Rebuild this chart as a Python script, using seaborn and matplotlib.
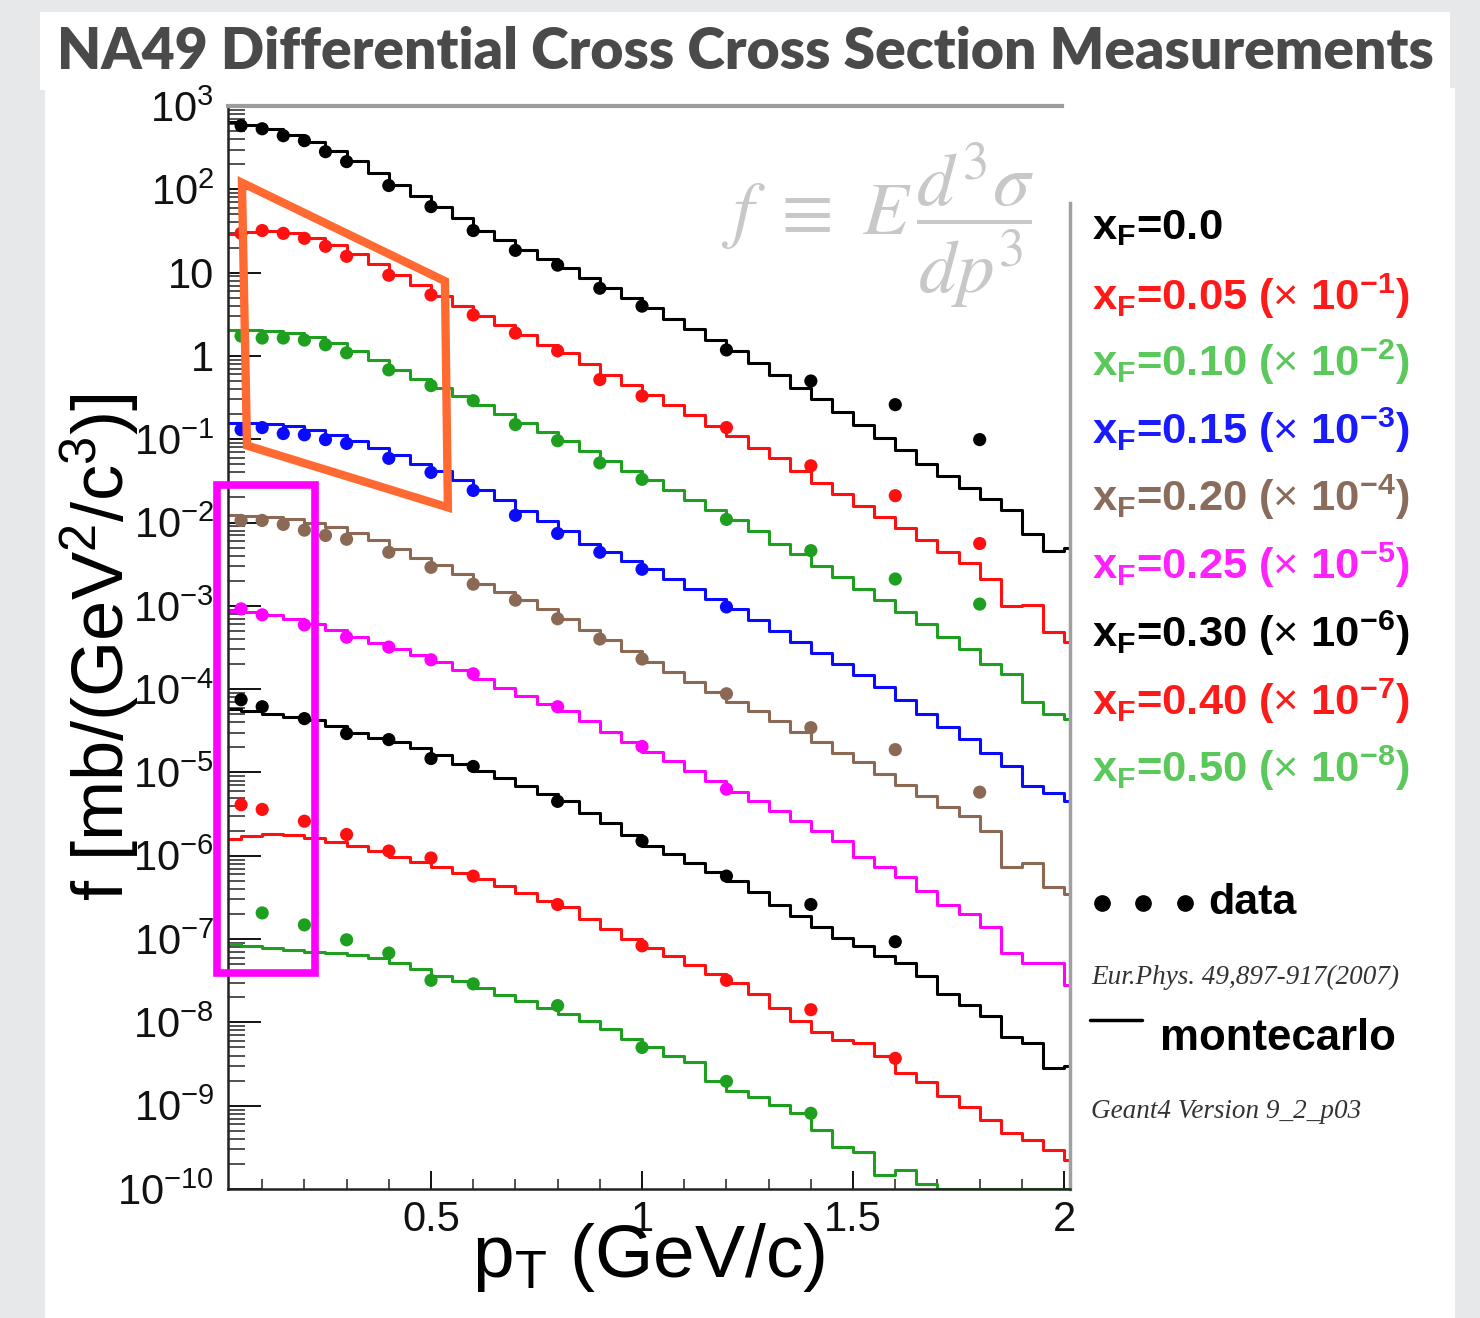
import numpy as np
import pandas as pd
import matplotlib
matplotlib.use("Agg")
import matplotlib.pyplot as plt
import seaborn as sns
from matplotlib.patches import Rectangle, Polygon
from matplotlib.lines import Line2D
from matplotlib.ticker import FixedLocator, LogLocator, NullFormatter, FuncFormatter, MultipleLocator

# ---------------- data ----------------
series_names = ["xF=0.0", "xF=0.05", "xF=0.10", "xF=0.15", "xF=0.20",
                "xF=0.25", "xF=0.30", "xF=0.40", "xF=0.50"]
legend_values = ["0.0", "0.05", "0.10", "0.15", "0.20", "0.25", "0.30", "0.40", "0.50"]
scale_exponents = [0, -1, -2, -3, -4, -5, -6, -7, -8]
line_colors = ["#000000", "#ff1010", "#1f9f1f", "#0a0aff", "#8c6955",
               "#ff00ff", "#000000", "#ff1010", "#1f9f1f"]
legend_colors = ["#000000", "#ff1a1a", "#5ac85a", "#1a1aff", "#8a6c5c",
                 "#ff22ff", "#000000", "#ff1a1a", "#5ac85a"]

# NA49 data points (already multiplied by the legend scale factors)
pt_fine = [0.05, 0.1, 0.15, 0.2, 0.25, 0.3, 0.4, 0.5, 0.6, 0.7, 0.8, 0.9, 1.0, 1.2, 1.4, 1.6, 1.8]
pt_coarse = [0.05, 0.1, 0.2, 0.3, 0.4, 0.5, 0.6, 0.8, 1.0, 1.2, 1.4, 1.6]
pt_xf050 = [0.1, 0.2, 0.3, 0.4, 0.5, 0.6, 0.8, 1.0, 1.2, 1.4]

data_xf000 = [580, 533, 440, 384, 283, 215, 111, 62, 32, 18.5, 12.3, 6.5, 3.96, 1.18, 0.50, 0.26, 0.099]
data_xf005 = [29.6, 32, 29.6, 25.8, 20.7, 15.7, 9.3, 5.4, 3.1, 1.88, 1.15, 0.52, 0.33, 0.138, 0.048, 0.021, 0.0056]
data_xf010 = [1.73, 1.64, 1.64, 1.55, 1.36, 1.09, 0.68, 0.44, 0.29, 0.150, 0.096, 0.052, 0.033, 0.0109, 0.0046, 0.0021, 0.00105]
data_xf015 = [0.130, 0.138, 0.117, 0.113, 0.099, 0.089, 0.059, 0.040, 0.0243, 0.0122, 0.0074, 0.0044, 0.00275, 0.00097]
data_xf020 = [0.0106, 0.0106, 0.0095, 0.0081, 0.0070, 0.0063, 0.0044, 0.0029, 0.00182, 0.00117, 0.00070,
              0.00040, 0.00023, 8.8e-5, 3.45e-5, 1.88e-5, 5.8e-6]
data_xf025 = [9.2e-4, 7.8e-4, 5.9e-4, 4.2e-4, 3.2e-4, 2.25e-4, 1.53e-4, 6.15e-5, 2.05e-5, 6.3e-6]
data_xf030 = [7.46e-5, 6.15e-5, 4.43e-5, 2.93e-5, 2.48e-5, 1.47e-5, 1.18e-5, 4.5e-6, 1.5e-6, 5.7e-7, 2.6e-7, 9.3e-8]
data_xf040 = [4.1e-6, 3.6e-6, 2.6e-6, 1.8e-6, 1.14e-6, 9.4e-7, 5.7e-7, 2.6e-7, 8.3e-8, 3.2e-8, 1.42e-8, 3.7e-9]
data_xf050 = [2.06e-7, 1.48e-7, 9.8e-8, 6.8e-8, 3.2e-8, 2.9e-8, 1.59e-8, 5.0e-9, 1.96e-9, 8.1e-10]

data_pt = [pt_fine, pt_fine, pt_fine, pt_fine[:14], pt_fine, pt_coarse[:10], pt_coarse, pt_coarse, pt_xf050]
data_f = [data_xf000, data_xf005, data_xf010, data_xf015, data_xf020,
          data_xf025, data_xf030, data_xf040, data_xf050]

# Geant4 Monte Carlo histograms: bin contents for bins [0.00,0.05), [0.05,0.10) ... [2.00,2.05)
mc_bin_width = 0.05
mc_xf000 = [647, 596, 533, 453, 373, 291, 221, 155, 114, 84,
            62, 45, 32, 24.4, 18.5, 14.5, 11.3, 8.6, 6.5, 4.9,
            3.75, 2.77, 2.10, 1.55, 1.15, 0.82, 0.59, 0.41, 0.30, 0.21,
            0.15, 0.104, 0.075, 0.050, 0.036, 0.026, 0.019, 0.014, 0.0072, 0.0046,
            0.0050]
mc_xf005 = [28.8, 30.4, 31.3, 29.6, 25.8, 21.3, 16.6, 12.6, 9.3, 7.1,
            5.2, 3.96, 3.01, 2.35, 1.78, 1.36, 1.09, 0.80, 0.59, 0.45,
            0.34, 0.26, 0.197, 0.146, 0.110, 0.079, 0.059, 0.042, 0.030, 0.022,
            0.016, 0.0115, 0.0085, 0.0061, 0.0044, 0.0033, 0.0021, 0.00100, 0.00102, 0.00049,
            0.00037]
mc_xf010 = [2.05, 2.05, 1.99, 1.88, 1.69, 1.43, 1.15, 0.90, 0.68, 0.53,
            0.41, 0.33, 0.26, 0.202, 0.158, 0.123, 0.096, 0.073, 0.055, 0.042,
            0.032, 0.0243, 0.0185, 0.0140, 0.0106, 0.0079, 0.0056, 0.0042, 0.0030, 0.0022,
            0.0016, 0.00117, 0.00084, 0.00061, 0.00042, 0.00030, 0.00020, 0.000153, 0.000071, 0.000051,
            0.000044]
mc_xf015 = [0.158, 0.158, 0.154, 0.146, 0.130, 0.113, 0.096, 0.079, 0.064, 0.051,
            0.041, 0.032, 0.0243, 0.0185, 0.0136, 0.0103, 0.0079, 0.0056, 0.0044, 0.0035,
            0.00275, 0.0021, 0.0016, 0.0012, 0.00092, 0.00068, 0.00050, 0.00037, 0.00027, 0.00020,
            1.49e-4, 1.07e-4, 7.5e-5, 5.1e-5, 3.5e-5, 2.5e-5, 1.69e-5, 1.18e-5, 6.8e-6, 5.6e-6,
            4.5e-6]
mc_xf020 = [1.22e-2, 1.19e-2, 1.15e-2, 1.09e-2, 1.00e-2, 8.8e-3, 7.4e-3, 6.1e-3, 4.8e-3, 3.8e-3,
            3.1e-3, 2.4e-3, 1.82e-3, 1.46e-3, 1.17e-3, 9.2e-4, 7.0e-4, 5.1e-4, 3.9e-4, 2.9e-4,
            2.1e-4, 1.61e-4, 1.23e-4, 9.3e-5, 7.1e-5, 5.4e-5, 4.1e-5, 3.1e-5, 2.35e-5, 1.73e-5,
            1.32e-5, 9.5e-6, 7.0e-6, 5.2e-6, 3.9e-6, 3.0e-6, 2.0e-6, 7.3e-7, 8.1e-7, 4.2e-7,
            3.5e-7]
mc_xf025 = [8.7e-4, 8.4e-4, 7.8e-4, 7.0e-4, 6.1e-4, 5.1e-4, 4.2e-4, 3.6e-4, 3.0e-4, 2.6e-4,
            2.1e-4, 1.71e-4, 1.33e-4, 1.04e-4, 8.3e-5, 6.7e-5, 5.4e-5, 4.1e-5, 3.1e-5, 2.35e-5,
            1.78e-5, 1.36e-5, 1.03e-5, 7.8e-6, 5.9e-6, 4.5e-6, 3.4e-6, 2.6e-6, 2.0e-6, 1.5e-6,
            9.6e-7, 7.3e-7, 5.5e-7, 3.8e-7, 2.6e-7, 2.0e-7, 1.4e-7, 6.8e-8, 5.2e-8, 5.2e-8,
            2.8e-8]
mc_xf030 = [5.83e-5, 5.52e-5, 5.08e-5, 4.68e-5, 4.31e-5, 3.65e-5, 3.01e-5, 2.62e-5, 2.29e-5, 1.94e-5,
            1.60e-5, 1.28e-5, 1.03e-5, 8.5e-6, 6.8e-6, 5.5e-6, 4.5e-6, 3.3e-6, 2.5e-6, 1.8e-6,
            1.3e-6, 1.04e-6, 8.1e-7, 6.4e-7, 5.0e-7, 3.7e-7, 2.6e-7, 1.9e-7, 1.4e-7, 1.03e-7,
            8.3e-8, 6.3e-8, 5.2e-8, 3.6e-8, 2.2e-8, 1.6e-8, 1.2e-8, 6.6e-9, 5.7e-9, 2.8e-9,
            3.0e-9]
mc_xf040 = [1.58e-6, 1.71e-6, 1.81e-6, 1.76e-6, 1.63e-6, 1.46e-6, 1.30e-6, 1.14e-6, 9.6e-7, 8.4e-7,
            7.3e-7, 6.2e-7, 5.2e-7, 4.3e-7, 3.6e-7, 2.9e-7, 2.4e-7, 1.75e-7, 1.32e-7, 1.00e-7,
            7.9e-8, 6.3e-8, 4.9e-8, 3.8e-8, 3.0e-8, 2.2e-8, 1.5e-8, 1.05e-8, 7.6e-9, 6.1e-9,
            5.7e-9, 4.0e-9, 2.5e-9, 1.9e-9, 1.3e-9, 9.6e-10, 6.7e-10, 4.7e-10, 3.9e-10, 2.9e-10,
            2.2e-10]
mc_xf050 = [8.8e-8, 8.3e-8, 7.9e-8, 7.4e-8, 7.0e-8, 6.8e-8, 6.5e-8, 6.0e-8, 5.2e-8, 4.4e-8,
            3.6e-8, 3.1e-8, 2.6e-8, 2.15e-8, 1.82e-8, 1.50e-8, 1.27e-8, 1.05e-8, 8.4e-9, 6.4e-9,
            5.0e-9, 4.0e-9, 3.3e-9, 2.0e-9, 1.49e-9, 1.26e-9, 1.01e-9, 8.1e-10, 5.1e-10, 3.2e-10,
            2.8e-10, 1.47e-10, 1.69e-10, 1.15e-10, 1e-10, 1e-10, 1e-10, 1e-10, 1e-10, 1e-10,
            1e-10]
mc_values = [mc_xf000, mc_xf005, mc_xf010, mc_xf015, mc_xf020,
             mc_xf025, mc_xf030, mc_xf040, mc_xf050]

# ---------------- tidy frames ----------------
mc_rows = []
for name, vals in zip(series_names, mc_values):
    n = len(vals)
    edges = np.round(np.arange(n + 1) * mc_bin_width, 3)
    yv = list(vals) + [vals[-1]]
    for e, v in zip(edges, yv):
        mc_rows.append((name, e, v))
mc_df = pd.DataFrame(mc_rows, columns=["series", "pt", "f"])

pt_rows = []
for name, xs, ys in zip(series_names, data_pt, data_f):
    for x, y in zip(xs, ys):
        pt_rows.append((name, x, y))
pts_df = pd.DataFrame(pt_rows, columns=["series", "pt", "f"])

palette = dict(zip(series_names, line_colors))

# ---------------- style ----------------
sns.set_theme(style="white")
plt.rcParams["font.family"] = ["Liberation Sans", "DejaVu Sans"]
plt.rcParams["mathtext.fontset"] = "custom"
plt.rcParams["mathtext.rm"] = "Liberation Sans"
plt.rcParams["mathtext.it"] = "Liberation Sans:italic"
plt.rcParams["mathtext.bf"] = "Liberation Sans:bold"
plt.rcParams["mathtext.sf"] = "Liberation Sans"

W, H = 1480, 1318
fig = plt.figure(figsize=(W / 100, H / 100), dpi=100, facecolor="#e7e8ea")

def fx(px):
    return px / W

def fy(py):
    return 1 - py / H

# white slide panels (behind everything)
fig.patches.append(Rectangle((fx(45), 0), fx(1455 - 45), (H - 88) / H, transform=fig.transFigure,
                             facecolor="white", edgecolor="none", zorder=-5))
fig.patches.append(Rectangle((fx(40), fy(90)), fx(1450 - 40), (90 - 12) / H, transform=fig.transFigure,
                             facecolor="white", edgecolor="none", zorder=-5))

ax = fig.add_axes([fx(228), fy(1189), fx(1070 - 228), (1189 - 106) / H])
ax.set_facecolor("white")
ax.set_yscale("log")

sns.lineplot(data=mc_df, x="pt", y="f", hue="series", palette=palette, drawstyle="steps-post",
             estimator=None, sort=False, legend=False, linewidth=2.2, ax=ax, zorder=2)
sns.scatterplot(data=pts_df, x="pt", y="f", hue="series", palette=palette, s=90, linewidth=0,
                legend=False, ax=ax, zorder=3)

ax.set_xlim(0.019, 2.014)
ax.set_ylim(1e-10, 1e3)

# ticks
ax.yaxis.set_major_locator(FixedLocator([10.0 ** k for k in range(-10, 4)]))

def ylab(v, pos):
    k = int(round(np.log10(v)))
    if k == 0:
        return "1"
    if k == 1:
        return "10"
    return r"$10^{%d}$" % k

ax.yaxis.set_major_formatter(FuncFormatter(ylab))
ax.yaxis.set_minor_locator(LogLocator(base=10, subs=np.arange(2, 10), numticks=200))
ax.yaxis.set_minor_formatter(NullFormatter())
ax.xaxis.set_major_locator(FixedLocator([0.5, 1.0, 1.5, 2.0]))
ax.xaxis.set_major_formatter(FuncFormatter(lambda v, p: "%g" % v))
ax.xaxis.set_minor_locator(MultipleLocator(0.1))

ax.tick_params(axis="y", which="major", direction="in", length=24, width=1.4, labelsize=30, pad=10,
               colors="#111111", left=True)
ax.tick_params(axis="y", which="minor", direction="in", length=12, width=1.1, colors="#222222", left=True)
ax.tick_params(axis="x", which="major", direction="in", length=13, width=1.4, labelsize=30, pad=8,
               colors="#111111", bottom=True)
ax.tick_params(axis="x", which="minor", direction="in", length=7, width=1.1, colors="#222222", bottom=True)

for s in ["left", "bottom"]:
    ax.spines[s].set_color("#222222")
    ax.spines[s].set_linewidth(1.8)
ax.spines["top"].set_color("#9c9c9c")
ax.spines["top"].set_linewidth(3)
ax.spines["top"].set_bounds(0.019, 1.995)
ax.spines["right"].set_color("#a0a0a0")
ax.spines["right"].set_linewidth(2.5)
ax.spines["right"].set_bounds(1e-10, 68)

ax.set_xlabel(r"p$_{\rm T}$ (GeV/c)", fontsize=54, color="black")
ax.xaxis.set_label_coords(0.5, -0.030)
ax.set_ylabel(r"f [mb/(GeV$^{2}$/c$^{3}$)]", fontsize=52, color="black")
ax.yaxis.set_label_coords(-0.103, 0.5)

# highlight shapes
ax.add_patch(Polygon([(0.052, 120), (0.533, 7.9), (0.540, 0.0152), (0.064, 0.084)], closed=True,
                     fill=False, edgecolor="#ff6a33", linewidth=6, clip_on=False, zorder=6,
                     joinstyle="miter"))
ax.add_patch(Polygon([(-0.007, 0.028), (0.225, 0.028), (0.225, 3.9e-8), (-0.007, 3.9e-8)], closed=True,
                     fill=False, edgecolor="#ff00ff", linewidth=5.5, clip_on=False, zorder=6,
                     joinstyle="miter"))

# formula
fig.text(fx(878), fy(226), r"$f\ \equiv\ E\,\dfrac{d^3\sigma}{dp^3}$", fontsize=54, color="#c8c8c8",
         ha="center", va="center", math_fontfamily="stix")

# title
fig.text(fx(745), fy(52), "NA49 Differential Cross Cross Section Measurements", fontsize=41,
         fontweight="heavy", color="#4a4a4a", family=["Lato", "DejaVu Sans"], ha="center", va="center")

# legend text block
leg_y = [228, 296, 362, 430, 497, 565, 633, 701, 768]
for val, e, col, yy in zip(legend_values, scale_exponents, legend_colors, leg_y):
    if e == 0:
        s = r"x$_{\mathbf{F}}$=%s" % val
    else:
        s = r"x$_{\mathbf{F}}$=%s ($\times$ 10$^{\mathbf{%d}}$)" % (val, e)
    fig.text(fx(1092), fy(yy), s, fontsize=31.3, fontweight="bold", color=col, ha="left", va="center")

for px in [1102, 1143, 1185]:
    fig.add_artist(Line2D([fx(px)], [fy(903)], marker="o", markersize=11, color="black",
                          linestyle="none", transform=fig.transFigure))
fig.text(fx(1208), fy(903), "data", fontsize=31, fontweight="bold", color="black", ha="left", va="center")
fig.text(fx(1091), fy(977), "Eur.Phys. 49,897-917(2007)", fontsize=19.5, style="italic",
         family=["Liberation Serif", "DejaVu Serif"], color="#333333", ha="left", va="center")
fig.add_artist(Line2D([fx(1090), fx(1142)], [fy(1020), fy(1020)], color="black", linewidth=2.5,
                      transform=fig.transFigure))
fig.text(fx(1160), fy(1038), "montecarlo", fontsize=31.5, fontweight="bold", color="black",
         ha="left", va="center")
fig.text(fx(1091), fy(1112), "Geant4 Version 9_2_p03", fontsize=19.5, style="italic",
         family=["Liberation Serif", "DejaVu Serif"], color="#333333", ha="left", va="center")

fig.savefig("out.png", dpi=100, facecolor=fig.get_facecolor())
